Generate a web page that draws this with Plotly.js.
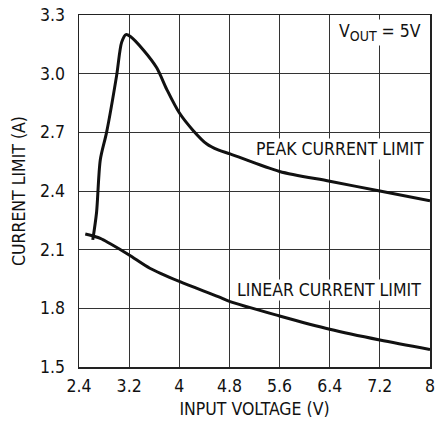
<!DOCTYPE html>
<html>
<head>
<meta charset="utf-8">
<script src="https://cdn.plot.ly/plotly-3.0.1.min.js"></script>
<style>html,body{margin:0;padding:0;background:#fff;}#chart{width:435px;height:423px;}</style>
</head>
<body>
<div id="chart"></div>
<script>
// Peak current limit curve
var peakX = [2.62, 2.68, 2.74, 2.84, 3.0, 3.08, 3.15, 3.22, 3.43, 3.64, 3.8, 4.0, 4.22, 4.44, 4.62, 4.81, 5.6, 6.4, 7.2, 8.0];
var peakY = [2.15, 2.29, 2.56, 2.70, 2.99, 3.16, 3.20, 3.19, 3.12, 3.03, 2.92, 2.80, 2.71, 2.64, 2.61, 2.59, 2.50, 2.45, 2.40, 2.35];
// Linear current limit curve
var linX = [2.5, 2.74, 2.9, 3.2, 3.53, 4.01, 4.62, 4.81, 5.6, 6.4, 7.2, 8.0];
var linY = [2.18, 2.158, 2.13, 2.073, 2.005, 1.936, 1.86, 1.834, 1.761, 1.693, 1.638, 1.59];
// Ticks
var xTickVals = [2.4, 3.2, 4, 4.8, 5.6, 6.4, 7.2, 8];
var xTickText = ["2.4", "3.2", "4", "4.8", "5.6", "6.4", "7.2", "8"];
var yTickVals = [1.5, 1.8, 2.1, 2.4, 2.7, 3.0, 3.3];
var yTickText = ["1.5", "1.8", "2.1", "2.4", "2.7", "3.0", "3.3"];
// Labels
var xTitle = "INPUT VOLTAGE (V)";
var yTitle = "CURRENT LIMIT (A)";
var peakLabel = "PEAK CURRENT LIMIT";
var linLabel = "LINEAR CURRENT LIMIT";
var voutLabel = 'V<sub><span style="font-size:14px">OUT</span></sub> = 5V';

var FONT = '"DejaVu Sans Condensed", "Liberation Sans Narrow", sans-serif';
var FS = 17.5;
var lineStyle = {color: '#111', width: 3, shape: 'spline', smoothing: 0.8};

var traces = [
  {x: peakX, y: peakY, mode: 'lines', line: lineStyle, hoverinfo: 'skip'},
  {x: linX, y: linY, mode: 'lines', line: lineStyle, hoverinfo: 'skip'}
];

var layout = {
  width: 435, height: 423,
  margin: {l: 79, r: 5, t: 15, b: 56, pad: 0},
  paper_bgcolor: '#fff', plot_bgcolor: '#fff',
  showlegend: false,
  font: {family: FONT, size: FS, color: '#111'},
  xaxis: {
    range: [2.4, 8], tickvals: xTickVals, ticktext: xTickText,
    showgrid: true, gridcolor: '#333', gridwidth: 1,
    zeroline: false, showline: true, linecolor: '#222', linewidth: 1.5, mirror: true,
    ticks: '', ticklabelstandoff: 2, ticklabeloverflow: 'allow',
    tickfont: {family: FONT, size: FS, color: '#111'},
    title: {text: xTitle, font: {family: FONT, size: FS, color: '#111'}, standoff: 8},
    automargin: false, fixedrange: true
  },
  yaxis: {
    range: [1.5, 3.3], tickvals: yTickVals, ticktext: yTickText,
    showgrid: true, gridcolor: '#333', gridwidth: 1,
    zeroline: false, showline: true, linecolor: '#222', linewidth: 1.5, mirror: true,
    ticks: '', ticklabelstandoff: 9, ticklabeloverflow: 'allow',
    tickfont: {family: FONT, size: FS, color: '#111'},
    title: {text: yTitle, font: {family: FONT, size: FS, color: '#111'}, standoff: 10},
    automargin: false, fixedrange: true
  },
  annotations: [
    {x: 7.92, y: 2.615, xref: 'x', yref: 'y', text: peakLabel, showarrow: false,
     xanchor: 'right', yanchor: 'middle', bgcolor: '#fff', borderpad: 0,
     font: {family: FONT, size: FS, color: '#111'}},
    {x: 7.87, y: 1.894, xref: 'x', yref: 'y', text: linLabel, showarrow: false,
     xanchor: 'right', yanchor: 'middle', bgcolor: '#fff', borderpad: 0,
     font: {family: FONT, size: FS, color: '#111'}},
    {x: 7.89, y: 3.208, xref: 'x', yref: 'y', text: voutLabel, showarrow: false,
     xanchor: 'right', yanchor: 'middle', bgcolor: '#fff', borderpad: 1,
     font: {family: FONT, size: FS, color: '#111'}}
  ]
};

Plotly.newPlot('chart', traces, layout, {displayModeBar: false, staticPlot: true});
</script>
</body>
</html>
